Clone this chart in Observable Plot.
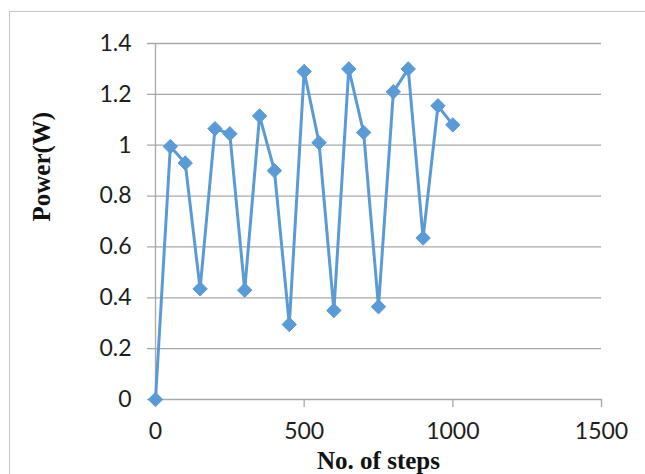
<!DOCTYPE html>
<html>
<head>
<meta charset="utf-8">
<script src="https://cdn.jsdelivr.net/npm/d3@7"></script>
<script src="https://cdn.jsdelivr.net/npm/@observablehq/plot@0.6"></script>
<style>
  html, body { margin: 0; padding: 0; background: #fff; }
  #wrap { position: relative; width: 645px; height: 474px; overflow: hidden; }
  #border { position: absolute; left: 9px; top: 11px; width: 660px; height: 500px; border: 1px solid #c6c6c6; box-sizing: border-box; }
  #chart { position: absolute; left: 0; top: 0; }
</style>
</head>
<body>
<div id="wrap"><div id="border"></div><div id="chart"></div></div>
<script>
const steps = [0, 50, 100, 150, 200, 250, 300, 350, 400, 450, 500, 550, 600, 650, 700, 750, 800, 850, 900, 950, 1000];
const power = [0, 0.995, 0.93, 0.435, 1.065, 1.045, 0.43, 1.115, 0.90, 0.295, 1.29, 1.01, 0.35, 1.30, 1.05, 0.365, 1.21, 1.30, 0.635, 1.155, 1.08];
const xTicks = [0, 500, 1000, 1500];
const xTickMarks = [500, 1000, 1500];
const yTicks = [0, 0.2, 0.4, 0.6, 0.8, 1, 1.2, 1.4];
const xLabel = "No. of steps";
const yLabel = "Power(W)";

const data = steps.map((s, i) => ({steps: s, power: power[i]}));
const blue = "#5b9bd5";
const grid = "#a8a8a8";
const serif = "'Liberation Serif', 'Times New Roman', serif";

const chart = Plot.plot({
  width: 645,
  height: 474,
  marginLeft: 155,
  marginRight: 44,
  marginTop: 43,
  marginBottom: 75,
  style: {fontFamily: "Lato, 'Open Sans', sans-serif", fontSize: "23px", color: "#1e1e1e", background: "transparent", overflow: "visible"},
  x: {type: "linear", domain: [0, 1500]},
  y: {type: "linear", domain: [0, 1.4]},
  marks: [
    Plot.ruleY(yTicks, {x1: 0, x2: 1500, stroke: grid, strokeWidth: 1.3, insetLeft: -8}),
    Plot.ruleX([0], {y1: 0, y2: 1.4, stroke: grid, strokeWidth: 1.3}),
    Plot.axisX({ticks: xTickMarks, tickSize: 8, tickFormat: () => "", stroke: grid, strokeWidth: 1.3, label: null}),
    Plot.axisY({ticks: yTicks, tickSize: 0, tickPadding: 24, tickFormat: d => String(+d.toFixed(1)), fontSize: 23, label: null}),
    Plot.axisX({ticks: xTicks, tickSize: 0, tickPadding: 23, tickFormat: d => String(d), fontSize: 23, label: null}),
    Plot.line(data, {x: "steps", y: "power", stroke: blue, strokeWidth: 3}),
    Plot.dot(data, {x: "steps", y: "power", symbol: "diamond2", r: 6.5, fill: blue, stroke: blue, strokeWidth: 1}),
    Plot.text([xLabel], {frameAnchor: "bottom", dy: 61, lineAnchor: "middle", fontFamily: serif, fontWeight: "bold", fontSize: 25, fill: "#111"}),
    Plot.text([yLabel], {frameAnchor: "left", dx: -114, dy: 0, rotate: -90, lineAnchor: "middle", fontFamily: serif, fontWeight: "bold", fontSize: 25, fill: "#111"})
  ]
});
document.getElementById("chart").appendChild(chart);
</script>
</body>
</html>
